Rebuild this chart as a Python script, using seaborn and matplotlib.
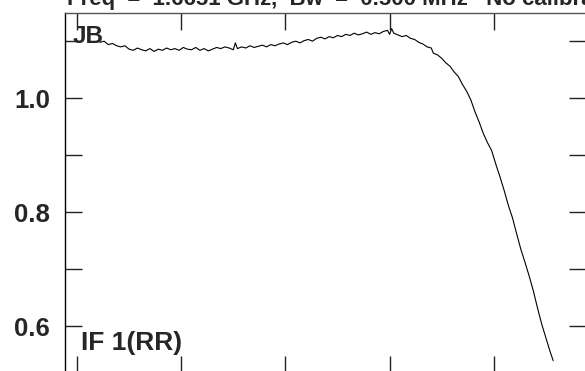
import matplotlib
matplotlib.use("Agg")
import matplotlib.pyplot as plt
import seaborn as sns
import pandas as pd

# channel numbers and amplitudes
channels = [122, 126, 130, 134, 138, 142, 146, 150, 154, 158, 162, 166, 170, 174, 178,
            182, 186, 190, 194, 198, 202, 206, 210, 214, 218, 222, 226, 230, 234, 238,
            242, 246, 250, 252, 254, 258, 262, 266, 270, 274, 278, 282, 286, 290, 294,
            298, 302, 306, 310, 314, 318, 322, 326, 330, 334, 338, 342, 346, 350, 354,
            358, 362, 366, 370, 374, 378, 382, 386, 390, 394, 398, 400, 402, 404, 408,
            412, 416, 420, 424, 428, 432, 436, 440, 442, 446, 450, 454, 458, 462, 466,
            470, 474, 478, 482, 486, 490, 494, 498, 502, 506, 510, 514, 518, 522, 526,
            530, 534, 538, 542, 546, 550, 554, 557]
amplitude = [1.098, 1.100, 1.094, 1.096, 1.092, 1.090, 1.092, 1.086, 1.084, 1.088,
             1.085, 1.083, 1.087, 1.082, 1.086, 1.084, 1.088, 1.085, 1.087, 1.084,
             1.089, 1.086, 1.085, 1.089, 1.084, 1.087, 1.083, 1.086, 1.089, 1.087,
             1.090, 1.088, 1.085, 1.097, 1.087, 1.090, 1.088, 1.092, 1.089, 1.091,
             1.093, 1.090, 1.094, 1.092, 1.095, 1.097, 1.094, 1.098, 1.100, 1.097,
             1.101, 1.103, 1.100, 1.105, 1.107, 1.104, 1.108, 1.106, 1.110, 1.108,
             1.112, 1.110, 1.114, 1.111, 1.113, 1.116, 1.112, 1.115, 1.113, 1.117,
             1.119, 1.112, 1.122, 1.114, 1.111, 1.108, 1.110, 1.105, 1.103, 1.098,
             1.095, 1.090, 1.088, 1.079, 1.076, 1.070, 1.062, 1.056, 1.046, 1.038,
             1.024, 1.012, 0.997, 0.976, 0.958, 0.938, 0.922, 0.908, 0.884, 0.862,
             0.838, 0.812, 0.790, 0.762, 0.735, 0.712, 0.688, 0.662, 0.632, 0.604,
             0.580, 0.556, 0.540]

x_ticks = [100, 200, 300, 400, 500]
y_major = [0.6, 0.8, 1.0]
y_minor = [0.7, 0.9, 1.1]
y_labels = ["0.6", "0.8", "1.0"]

title = "Freq  =  1.6651 GHz,  Bw  =  0.500 MHz   No calibration"
source_label = "JB"
if_label = "IF 1(RR)"

sns.set_style("white")
plt.rcParams["font.family"] = ["Liberation Sans", "DejaVu Sans"]
plt.rcParams["font.weight"] = "bold"

W, H = 585, 371
fig = plt.figure(figsize=(W / 100, H / 100), dpi=100)
# the plot frame runs past the right and bottom edges of the picture
ax = fig.add_axes([65 / W, (H - 373) / H, (586 - 65) / W, (373 - 13) / H])

df = pd.DataFrame({"channel": channels, "amp": amplitude})
sns.lineplot(data=df, x="channel", y="amp", ax=ax, sort=False,
             color="black", linewidth=0.8, estimator=None)

ax.set_xlim(88.5, 588.5)
ax.set_ylim(0.5183, 1.1494)
ax.set_xticks(x_ticks)
ax.set_xticklabels([])
ax.set_yticks(y_major)
ax.set_yticklabels(y_labels, fontsize=18.5, fontweight="bold")
ax.set_yticks(y_minor, minor=True)
ax.tick_params(axis="both", which="both", direction="in", length=12, width=1,
               color="#222222", top=True, right=True, left=True, bottom=True,
               labelright=False, labeltop=False)
ax.tick_params(axis="y", which="major", pad=10.8)
ax.set_xlabel("")
ax.set_ylabel("")
for name, sp in ax.spines.items():
    sp.set_visible(True)
    sp.set_linewidth(1)
    sp.set_color("black" if name == "left" else "#555555")

ax.text(0.014, 0.966, source_label, transform=ax.transAxes,
        fontsize=17.5, fontweight="bold", va="top", ha="left")
fig.text(81 / W, 1 - 350 / H, if_label, fontsize=19, fontweight="bold",
         va="baseline", ha="left")
fig.text(67 / W, 1 - 5 / H, title, fontsize=16, fontweight="bold",
         va="baseline", ha="left")

fig.savefig("out.png", dpi=100)
